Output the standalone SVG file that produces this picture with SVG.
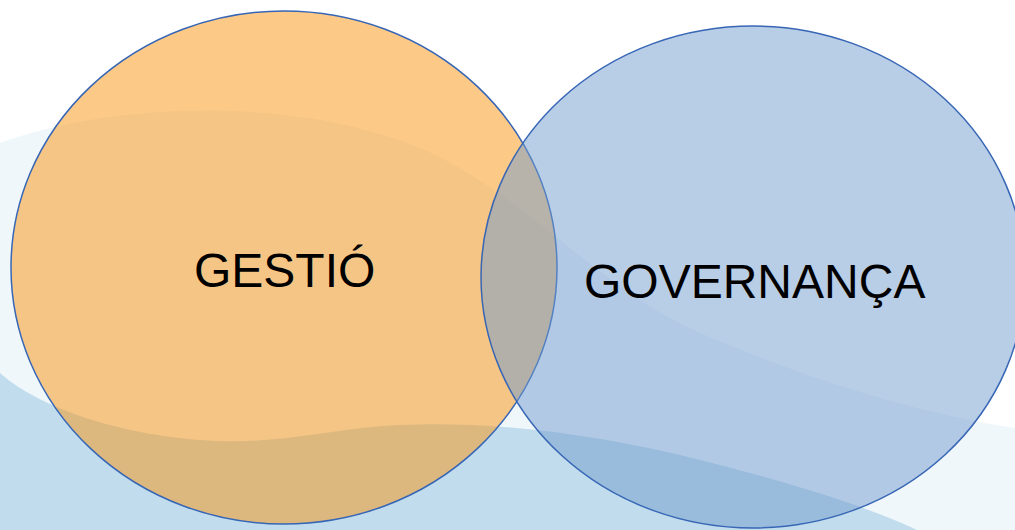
<svg xmlns="http://www.w3.org/2000/svg" width="1015" height="530" viewBox="0 0 1015 530">
  <style>
    .set { stroke: #3766B5; stroke-width: 1.5; }
    .label { font-family: "Liberation Sans", Arial, sans-serif; font-size: 48px; fill: #000000; }
  </style>
  <g id="background">
    <rect x="0" y="0" width="1015" height="530" fill="#FFFFFF"/>
    <path d="M0,143 C120,100 300,98 420,148 C520,190 600,290 700,333 C800,375 900,410 1015,428 L1015,530 L0,530 Z" fill="#F0F7FB"/>
    <path d="M0,373 C30,400 100,432 200,440 C280,446 330,428 400,425 C500,421 600,435 700,460 C800,485 870,508 917,530 L0,530 Z" fill="#C0DCED"/>
  </g>
  <g id="node-gestio">
    <ellipse class="set" cx="284" cy="267.5" rx="273" ry="256.5" fill="#F9930F" fill-opacity="0.5"/>
    <text class="label" x="194" y="287">GESTIÓ</text>
  </g>
  <g id="node-governanca">
    <ellipse class="set" cx="753" cy="277" rx="272" ry="251" fill="#719BCD" fill-opacity="0.5"/>
    <text class="label" x="584" y="298">GOVERNANÇA</text>
  </g>
  <g id="connectors"/>
</svg>
